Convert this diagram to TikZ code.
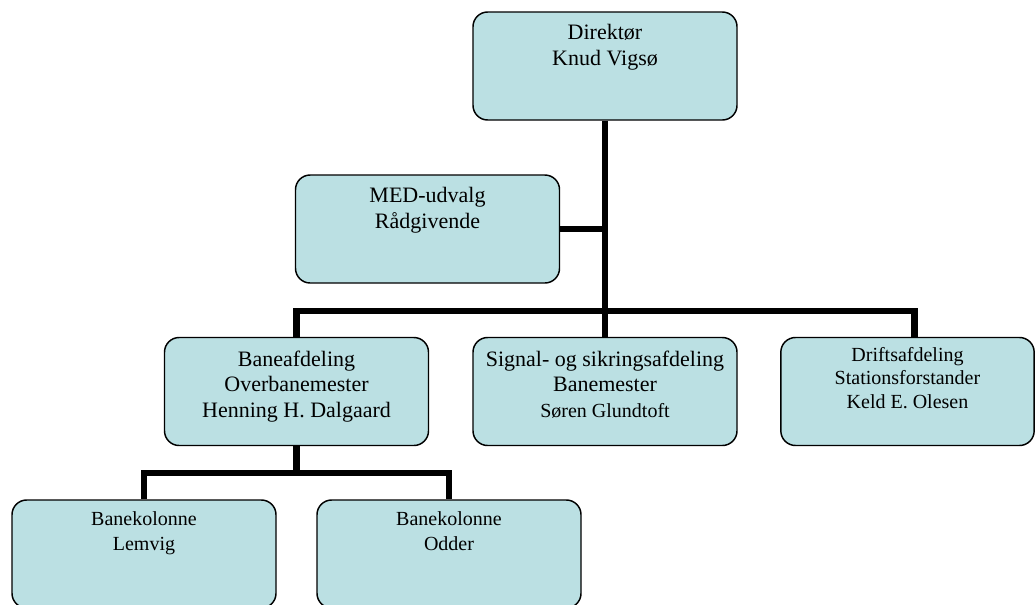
\documentclass[tikz,border=0pt]{standalone}
\usepackage{fontspec}
\setmainfont{Liberation Serif}
\usetikzlibrary{positioning}
\definecolor{boxfill}{RGB}{187,224,227}

\tikzset{
  unit/.style={rectangle,rounded corners=11pt,draw=black,line width=1.1pt,fill=boxfill,minimum width=198pt,minimum height=81pt},
  link/.style={line width=5pt,draw=black},
  big/.style={anchor=north,inner sep=0pt,align=center,font=\fontsize{16.5}{19}\selectfont},
  small/.style={anchor=north,inner sep=0pt,align=center,font=\fontsize{15}{18.75}\selectfont}
}

\begin{document}
\begin{tikzpicture}[x=0.75pt,y=-0.75pt]
\useasboundingbox (0,0) rectangle (1035,604);
\clip (0,0) rectangle (1035,604);
%Boxes
\node at (605,66) [unit] (Dir) {};
\node at (427.5,229) [unit] (Med) {};
\node at (296.5,391.5) [unit] (Bane) {};
\node at (605,391.5) [unit] (Signal) {};
\node at (907.5,391.5) [unit,minimum width=190pt] (Drift) {};
\node at (144,554) [unit] (Lemvig) {};
\node at (449,554) [unit] (Odder) {};

%Box Labels
\node [big] at ([yshift=-9.75pt]Dir.north) {Direktør\\Knud Vigsø};
\node [big] at ([yshift=-9.75pt]Med.north) {MED-udvalg\\Rådgivende};
\node [big] at ([yshift=-10.5pt]Bane.north) {Baneafdeling\\Overbanemester\\Henning H. Dalgaard};
\node [big] at ([yshift=-10.5pt]Signal.north) {Signal- og sikringsafdeling\\Banemester\\{\fontsize{15}{19}\selectfont Søren Glundtoft}};
\node [small,font=\fontsize{15}{17.6}\selectfont] at ([yshift=-7.5pt]Drift.north) {Driftsafdeling\\Stationsforstander\\Keld E. Olesen};
\node [small] at ([yshift=-9pt]Lemvig.north) {Banekolonne\\Lemvig};
\node [small] at ([yshift=-9pt]Odder.north) {Banekolonne\\Odder};

%Connections
\coordinate (Bus) at (605,311);
\coordinate (Sub) at (296.5,473);
\draw [link] (Dir) -- (Signal);
\draw [link] (Med.east) -- (Med.east -| Dir.south);
\draw [link] (Bane.north) |- (Bus) -| ([xshift=5pt]Drift.north);
\draw [link] (Bane) -- (Sub);
\draw [link] (Lemvig.north) |- (Sub) -| (Odder.north);
\end{tikzpicture}
\end{document}
